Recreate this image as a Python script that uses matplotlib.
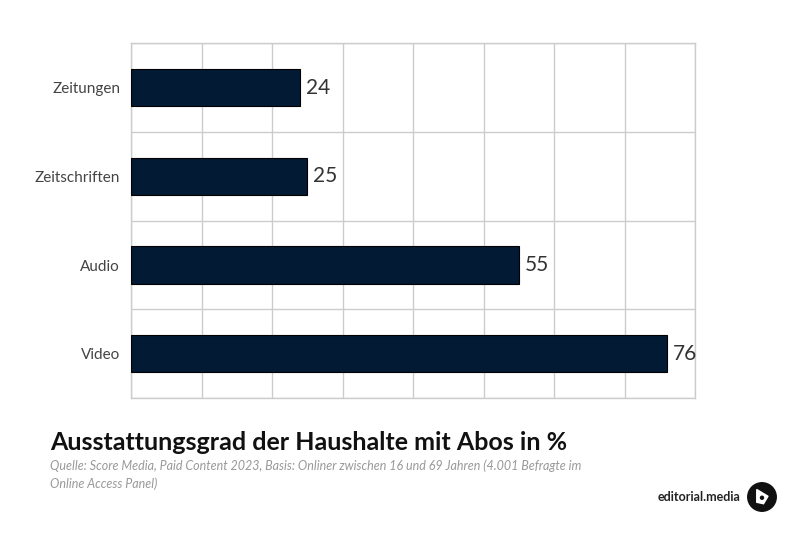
import matplotlib.pyplot as plt
from matplotlib.patches import Circle, Polygon

categories = ['Zeitungen', 'Zeitschriften', 'Audio', 'Video']
values = [24, 25, 55, 76]

plt.rcParams['font.family'] = ['Lato', 'DejaVu Sans']

fig = plt.figure(figsize=(8, 5.33), dpi=100)
ax = fig.add_axes([0.164, 0.253, 0.705, 0.666])

ax.barh(range(len(categories)), values, height=0.42, color='#021a33',
        edgecolor='black', linewidth=0.8, zorder=3)
for i, v in enumerate(values):
    ax.text(v + 0.8, i, str(v), va='center', ha='left', fontsize=15, color='#333333')

ax.set_xlim(0, 80)
ax.set_ylim(3.5, -0.5)
ax.set_xticks(range(0, 81, 10))
ax.set_xticklabels([])
ax.set_yticks(range(len(categories)))
ax.set_yticklabels(categories, fontsize=11, color='#444444')
ax.set_yticks([-0.5, 0.5, 1.5, 2.5, 3.5], minor=True)
ax.tick_params(axis='both', which='both', length=0, pad=8)
ax.grid(True, axis='x', which='major', color='#cccccc', linewidth=1, zorder=0)
ax.grid(True, axis='y', which='minor', color='#cccccc', linewidth=1, zorder=0)
for s in ax.spines.values():
    s.set_color('#cccccc')
    s.set_linewidth(1)

fig.text(0.0625, 0.155, 'Ausstattungsgrad der Haushalte mit Abos in %', fontsize=18,
         fontweight='bold', color='#111111', ha='left', va='baseline')
fig.text(0.0625, 0.126, 'Quelle: Score Media, Paid Content 2023, Basis: Onliner zwischen 16 und 69 Jahren (4.001 Befragte im',
         fontsize=9, style='italic', color='#999999', ha='left', va='center')
fig.text(0.0625, 0.092, 'Online Access Panel)',
         fontsize=9, style='italic', color='#999999', ha='left', va='center')

# logo
fig.text(0.925, 0.067, 'editorial.media', fontsize=9, fontweight='bold', color='#222222',
         ha='right', va='center')
lax = fig.add_axes([747 / 800, 1 - 512 / 533, 30 / 800, 30 / 533])
lax.set_xlim(-1, 1)
lax.set_ylim(-1, 1)
lax.set_aspect('equal')
lax.axis('off')
lax.add_patch(Circle((0, 0), 0.95, color='#111111'))
lax.add_patch(Polygon([(-0.35, 0.5), (0.4, 0.05), (0.1, -0.45), (-0.35, -0.35)],
                      closed=True, color='white'))
lax.add_patch(Circle((0.0, -0.05), 0.1, color='#111111'))

fig.savefig('out.png', dpi=100)
